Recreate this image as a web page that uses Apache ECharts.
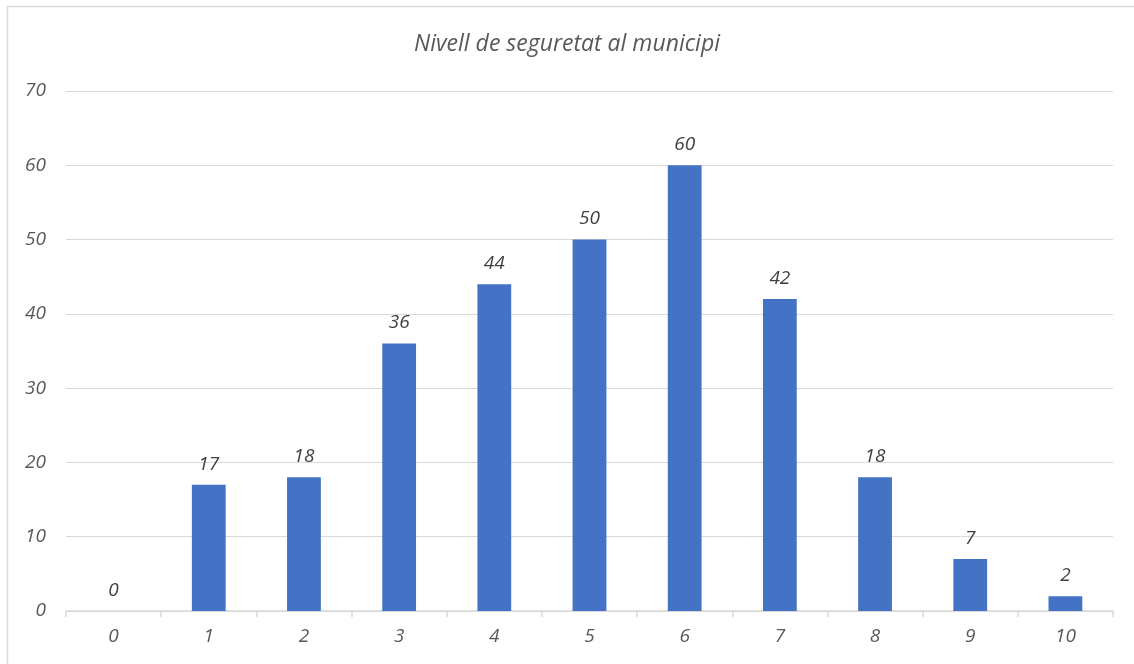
<!DOCTYPE html>
<html><head><meta charset="utf-8">
<script src="https://cdn.jsdelivr.net/npm/echarts@6/dist/echarts.min.js"></script>
<style>html,body{margin:0;padding:0;background:#fff}#c{width:1134px;height:664px}</style>
</head><body><div id="c"></div>
<script>
const categories = ['0','1','2','3','4','5','6','7','8','9','10'];
const values = [0,17,18,36,44,50,60,42,18,7,2];
const yTicks = [0,10,20,30,40,50,60,70];
const title = 'Nivell de seguretat al municipi';
const FONT = '"Open Sans", sans-serif';
const chart = echarts.init(document.getElementById('c'), null, {renderer:'canvas'});
chart.setOption({
  animation:false,
  backgroundColor:'#fff',
  graphic:[{type:'rect', shape:{x:7.5,y:6.5,width:1140,height:680}, style:{fill:'none',stroke:'#d9d9d9',lineWidth:1.5}, silent:true}],
  title:{text:title,left:'center',top:28,textStyle:{fontFamily:FONT,fontStyle:'italic',fontWeight:'normal',fontSize:23,color:'#595959'}},
  grid:{left:66,right:21,top:91,bottom:53,containLabel:false},
  xAxis:{type:'category',data:categories,
    axisLine:{lineStyle:{color:'#d9d9d9',width:1.5}},
    axisTick:{show:true,length:6,lineStyle:{color:'#d9d9d9',width:1.5}},
    axisLabel:{fontFamily:FONT,fontStyle:'italic',fontSize:19,color:'#595959',margin:16},
    splitLine:{show:false}},
  yAxis:{type:'value',min:0,max:70,interval:10,
    axisLine:{show:false},axisTick:{show:false},
    axisLabel:{fontFamily:FONT,fontStyle:'italic',fontSize:19,color:'#595959',margin:20,
      formatter:v=>yTicks.includes(v)?String(v):''},
    splitLine:{lineStyle:{color:'#d9d9d9',width:1.2}}},
  series:[{type:'bar',data:values,barWidth:'35.5%',
    itemStyle:{color:'#4472C4'},
    label:{show:true,position:'top',distance:11,fontFamily:FONT,fontStyle:'italic',fontSize:19,color:'#404040'}}]
});
</script></body></html>
